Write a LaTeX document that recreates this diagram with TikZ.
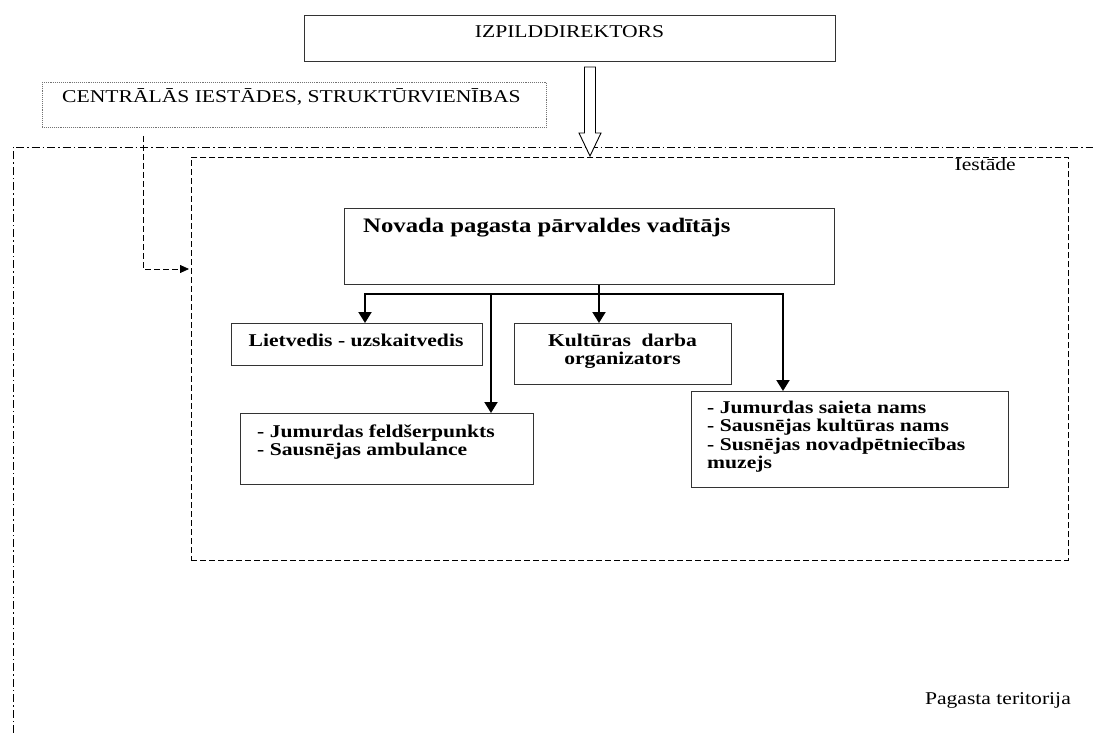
\documentclass[tikz,border=0pt]{standalone}
\usepackage{fontspec}
\setmainfont{Liberation Serif}[FakeStretch=1.2]
\usetikzlibrary{arrows.meta,calc}
\begin{document}
\begin{tikzpicture}[x=1pt,y=-1pt,
  box/.style={draw=black!80,line width=0.9pt,anchor=north west,inner sep=0pt},
  txt/.style={inner sep=0pt,font=\fontsize{18}{18.6}\selectfont},
  btxt/.style={inner sep=0pt,font=\fontsize{18}{18.6}\selectfont\bfseries},
  conn/.style={line width=2pt},
  arr/.style={line width=2pt,-{Triangle[length=11pt,width=13pt]}},
  terr/.style={line width=0.7pt,dash pattern=on 8pt off 3pt on 1.5pt off 3pt},
  inst/.style={line width=0.8pt,dash pattern=on 6pt off 3pt}]
\useasboundingbox (0,0) rectangle (1093,733);
% outer territory border
\coordinate (t1) at (13,733);
\coordinate (t2) at (13,147);
\coordinate (t3) at (1093,147);
\draw[terr] (t1) -- (t2) -- (t3);
% institution border
\node[box,draw=black,inst,minimum width=877pt,minimum height=403pt] (iest) at (191,157) {};
\node[txt,anchor=base east] (iestl) at (1016,171) {Iestāde};
% director
\node[box,minimum width=531pt,minimum height=46pt] (izp) at (304,15) {};
\node[txt,anchor=base] (izpl) at (569.5,38) {IZPILDDIREKTORS};
% hollow arrow
\draw[line width=0.9pt,fill=white] (584.5,67) -- (595.5,67) -- (595.5,133) -- (601,133) -- (590,156) -- (579,133) -- (584.5,133) -- cycle;
% central institutions
\node[box,draw=black!55,densely dotted,line width=0.8pt,minimum width=504pt,minimum height=45pt] (cent) at (42,82) {};
\node[txt,anchor=base west] (centl) at (62,103) {CENTRĀLĀS IESTĀDES, STRUKTŪRVIENĪBAS};
\coordinate (c1) at (143,136);
\coordinate (c2) at (189,269);
\draw[inst,-{Triangle[length=9pt,width=8pt]}] (c1) |- (c2);
% head of parish administration
\node[box,minimum width=490pt,minimum height=76pt] (nov) at (344,208) {};
\node[btxt,font=\fontsize{20.6}{21}\selectfont\bfseries,anchor=base west] (novl) at (363,232) {Novada pagasta pārvaldes vadītājs};
% sub boxes
\node[box,minimum width=251pt,minimum height=42pt] (liet) at (231,323) {};
\node[btxt,anchor=base] (lietl) at (356,346) {Lietvedis - uzskaitvedis};
\node[box,minimum width=217pt,minimum height=61pt] (kult) at (514,323) {};
\node[btxt,anchor=base] (kultl) at (622.5,346) {\begin{tabular}[t]{@{}c@{}}Kultūras\ \ darba\\organizators\end{tabular}};
\node[box,minimum width=293pt,minimum height=71pt] (feld) at (240,413) {};
\node[btxt,anchor=base west] (feldl) at (257,437) {\begin{tabular}[t]{@{}l@{}}- Jumurdas feldšerpunkts\\- Sausnējas ambulance\end{tabular}};
\node[box,minimum width=317pt,minimum height=96pt] (jum) at (691,391) {};
\node[btxt,anchor=base west] (juml) at (707,413) {\begin{tabular}[t]{@{}l@{}}- Jumurdas saieta nams\\- Sausnējas kultūras nams\\- Susnējas novadpētniecības\\muzejs\end{tabular}};
% connectors
\coordinate (b1) at (365,294);
\coordinate (b2) at (491,294);
\coordinate (b3) at (599,294);
\coordinate (b4) at (783,294);
\draw[conn] (b3 |- nov.south) -- (b3);
\draw[conn,line cap=rect] (b1) -- (b4);
\draw[arr] (b1) -- (b1 |- liet.north);
\draw[arr] (b2) -- (b2 |- feld.north);
\draw[arr] (b3) -- (b3 |- kult.north);
\draw[arr] (b4) -- (b4 |- jum.north);
% territory label
\node[txt,anchor=base east] (terl) at (1071,704) {Pagasta teritorija};
\end{tikzpicture}
\end{document}
